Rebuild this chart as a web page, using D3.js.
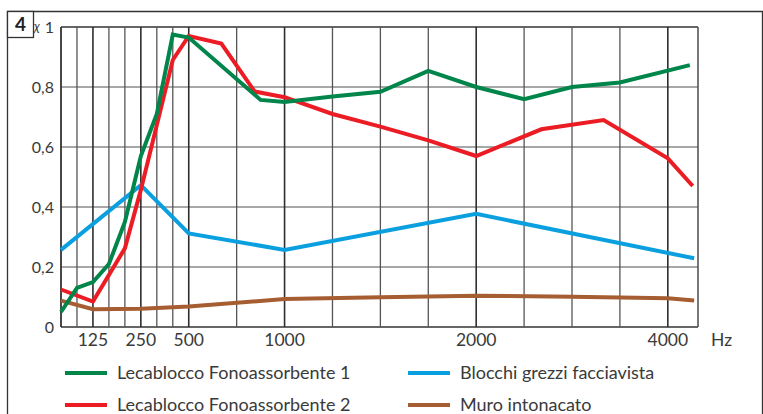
<!DOCTYPE html>
<html>
<head>
<meta charset="utf-8">
<script src="https://cdn.jsdelivr.net/npm/d3@7"></script>
<style>
  html, body { margin: 0; padding: 0; background: #fff; }
  svg { display: block; }
  text { font-family: Lato, "Noto Sans", sans-serif; fill: #3a3a3a; }
</style>
</head>
<body>
<script>
// ---------- DATA ----------
// frequency (Hz) of the vertical grid lines (the chart draws each octave in equal subdivisions)
const gridHz = [42, 83, 125, 167, 208, 250, 333, 417, 500, 750, 1000, 1250, 1500, 1750, 2000, 2500, 3000, 3500, 4000, 4315];
const xTickLabels = [125, 250, 500, 1000, 2000, 4000];
const yTickValues = [0, 0.2, 0.4, 0.6, 0.8, 1];
const yTickLabels = ["0", "0,2", "0,4", "0,6", "0,8", "1"];

const seriesNames = [
  "Lecablocco Fonoassorbente 1",
  "Lecablocco Fonoassorbente 2",
  "Blocchi grezzi facciavista",
  "Muro intonacato"
];
const seriesColors = ["#00854a", "#ec1c24", "#0aa0e0", "#a65d32"];

const leca1Hz  = [42, 83, 125, 167, 208, 250, 333, 417, 500, 875, 1000, 1250, 1500, 1750, 2000, 2500, 3000, 3500, 4230];
const leca1Val = [0.05, 0.13, 0.15, 0.21, 0.35, 0.57, 0.71, 0.975, 0.965, 0.757, 0.75, 0.768, 0.784, 0.854, 0.80, 0.759, 0.80, 0.815, 0.873];

const leca2Hz  = [42, 125, 208, 250, 417, 500, 670, 844, 1000, 1250, 1500, 1750, 2000, 2680, 3330, 4000, 4260];
const leca2Val = [0.125, 0.085, 0.262, 0.457, 0.89, 0.97, 0.945, 0.785, 0.766, 0.71, 0.668, 0.622, 0.57, 0.659, 0.69, 0.562, 0.47];

const blocchiHz  = [42, 250, 500, 1000, 2000, 4275];
const blocchiVal = [0.257, 0.473, 0.312, 0.257, 0.377, 0.229];

const muroHz  = [42, 125, 250, 500, 1000, 1500, 2000, 3000, 4000, 4275];
const muroVal = [0.088, 0.059, 0.061, 0.068, 0.093, 0.099, 0.104, 0.101, 0.096, 0.088];

const seriesHz  = [leca1Hz, leca2Hz, blocchiHz, muroHz];
const seriesVal = [leca1Val, leca2Val, blocchiVal, muroVal];

// ---------- LAYOUT ----------
const W = 763, H = 414;
const plot = { left: 61, right: 698, top: 27, bottom: 327 };

const svg = d3.select("body").append("svg").attr("width", W).attr("height", H);

// piecewise x scale: small equal steps up to 500 Hz, triple steps after
const units = [0];
for (let i = 1; i < gridHz.length; i++) {
  let step;
  if (gridHz[i] <= 500) step = 1;
  else if (gridHz[i] <= 4000) step = 3;
  else step = 3 * (gridHz[i] - gridHz[i - 1]) / 500;
  units.push(units[i - 1] + step);
}
const totalU = units[units.length - 1];
const x = d3.scaleLinear()
  .domain(gridHz)
  .range(units.map(u => plot.left + u / totalU * (plot.right - plot.left)));

const y = d3.scaleLinear().domain([0, 1]).range([plot.bottom, plot.top]);

// outer frame
svg.append("path")
  .attr("d", `M7.5,${H} V11.5 H762.5 V${H}`)
  .attr("fill", "none").attr("stroke", "#333").attr("stroke-width", 1.3);

// figure number box
svg.append("rect").attr("x", 7.5).attr("y", 11.5).attr("width", 26).attr("height", 26)
  .attr("fill", "#fff").attr("stroke", "#333").attr("stroke-width", 1.3);
svg.append("text").attr("x", 20.5).attr("y", 31).attr("text-anchor", "middle")
  .style("font-weight", "bold").style("font-size", "19px").style("fill", "#222").text("4");
svg.append("text").attr("x", 34).attr("y", 31).style("font-size", "13px").style("font-style", "italic").text("χ");

// horizontal grid
svg.append("g").selectAll("line").data(yTickValues).join("line")
  .attr("x1", plot.left).attr("x2", plot.right)
  .attr("y1", d => y(d)).attr("y2", d => y(d))
  .attr("stroke", d => (d === 0 || d === 1) ? "#333" : "#8a8a8a")
  .attr("stroke-width", 1.6);

// vertical grid
const major = new Set(xTickLabels);
svg.append("g").selectAll("line").data(gridHz.slice(0, gridHz.length - 1)).join("line")
  .attr("x1", d => x(d)).attr("x2", d => x(d))
  .attr("y1", plot.top).attr("y2", plot.bottom)
  .attr("stroke", (d, i) => i === 0 ? "#333" : (major.has(d) ? "#2e2e2e" : "#555"))
  .attr("stroke-width", (d, i) => i === 0 ? 1.8 : (major.has(d) ? 1.6 : 1.3));
// right border
svg.append("line").attr("x1", x(gridHz[gridHz.length - 1])).attr("x2", x(gridHz[gridHz.length - 1]))
  .attr("y1", plot.top).attr("y2", plot.bottom).attr("stroke", "#555").attr("stroke-width", 1.6);

// y axis labels
svg.append("g").selectAll("text").data(yTickValues).join("text")
  .attr("x", 54).attr("y", d => y(d) + 5.5)
  .attr("text-anchor", "end").style("font-size", "16px")
  .text((d, i) => yTickLabels[i]);

// x axis labels
svg.append("g").selectAll("text").data(xTickLabels).join("text")
  .attr("x", d => x(d)).attr("y", 346)
  .attr("text-anchor", "middle").style("font-size", "17.5px")
  .text(d => d);
svg.append("text").attr("x", 711).attr("y", 346).style("font-size", "17.5px").text("Hz");

// series lines
const line = d3.line().x(d => x(d[0])).y(d => y(d[1]));
const order = [3, 2, 1, 0];
order.forEach(s => {
  const pts = seriesHz[s].map((f, i) => [f, seriesVal[s][i]]);
  svg.append("path").datum(pts)
    .attr("d", line)
    .attr("fill", "none")
    .attr("stroke", seriesColors[s])
    .attr("stroke-width", 4)
    .attr("stroke-linejoin", "miter");
});

// legend
const legPos = [[65, 373], [65, 405], [408, 373], [408, 405]];
seriesNames.forEach((name, i) => {
  const [lx, ly] = legPos[i];
  svg.append("line").attr("x1", lx).attr("x2", lx + 42).attr("y1", ly).attr("y2", ly)
    .attr("stroke", seriesColors[i]).attr("stroke-width", 4);
  svg.append("text").attr("x", lx + 52).attr("y", ly + 6).style("font-size", "18px").text(name);
});
</script>
</body>
</html>
